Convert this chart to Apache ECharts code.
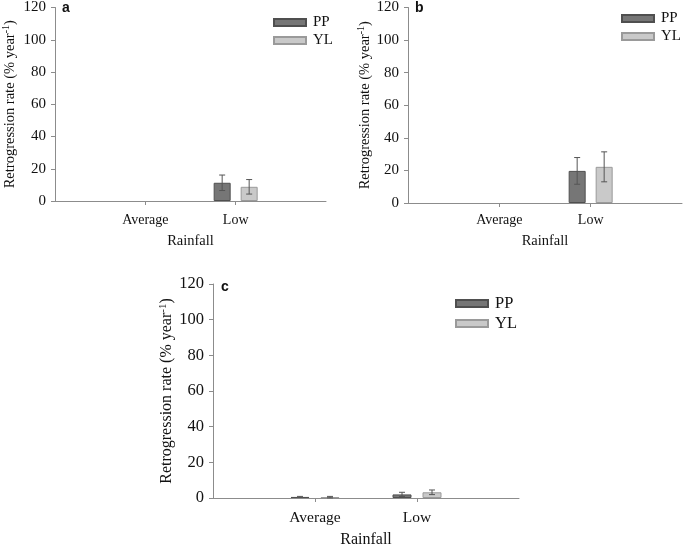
<!DOCTYPE html>
<html>
<head>
<meta charset="utf-8">
<script src="https://cdn.jsdelivr.net/npm/echarts@6/dist/echarts.min.js"></script>
<style>
html,body{margin:0;padding:0;background:#fff;}
#chart{width:685px;height:549px;}
</style>
</head>
<body>
<div id="chart"></div>
<script>
// ---- data ----
const categories = ['Average', 'Low'];
const seriesNames = ['PP', 'YL'];
const yTicks = [0, 20, 40, 60, 80, 100, 120];

const aPP = [null, 11.3];
const aPPErr = [null, 4.8];
const aYL = [null, 8.8];
const aYLErr = [null, 4.5];

const bPP = [null, 19.7];
const bPPErr = [null, 8.2];
const bYL = [null, 22.2];
const bYLErr = [null, 9.2];

const cPP = [0.6, 2.0];
const cPPErr = [0.3, 1.2];
const cYL = [0.5, 3.2];
const cYLErr = [0.4, 1.3];

// ---- layout / style ----
const SERIF = '"Liberation Serif","Times New Roman",serif';
const panels = [
  {key:'a', pp:aPP, ppE:aPPErr, yl:aYL, ylE:aYLErr,
   grid:{left:55, top:6, width:271, height:195}, fs:14, tfs:14.5, bw:17, gap:10,
   legend:{left:268, top:10}, tag:{left:62, top:1}, yGap:37, xGap:33, lblM:12},
  {key:'b', pp:bPP, ppE:bPPErr, yl:bYL, ylE:bYLErr,
   grid:{left:408, top:7, width:277, height:196}, fs:14, tfs:14.5, bw:17, gap:10,
   legend:{left:616, top:6}, tag:{left:415, top:1}, yGap:35, xGap:31, lblM:10},
  {key:'c', pp:cPP, ppE:cPPErr, yl:cYL, ylE:cYLErr,
   grid:{left:213, top:284, width:306, height:214}, fs:15.5, tfs:16, bw:19, gap:11,
   legend:{left:450, top:290}, tag:{left:221, top:280}, yGap:37, xGap:34, lblM:12}
];

const padCats = [''].concat(categories, ['']);
const pad = arr => [null].concat(arr, [null]);

const option = {
  animation:false,
  backgroundColor:'#fff',
  title:[], grid:[], xAxis:[], yAxis:[], legend:[], series:[]
};

panels.forEach((p, i) => {
  option.grid.push(Object.assign({containLabel:false}, p.grid));
  option.title.push({text:p.key, left:p.tag.left, top:p.tag.top, padding:0,
    textStyle:{fontFamily:'"Liberation Sans",Arial,sans-serif', fontWeight:'bold', fontSize:14, color:'#111'}});
  option.xAxis.push({
    type:'category', gridIndex:i, data:padCats, boundaryGap:false,
    name:'Rainfall', nameLocation:'middle', nameGap:p.xGap,
    nameTextStyle:{fontFamily:SERIF, fontSize:p.tfs, color:'#111'},
    axisLine:{lineStyle:{color:'#8c8c8c', width:1}},
    axisTick:{show:true, length:4, interval:(idx)=>idx===1||idx===2, lineStyle:{color:'#8c8c8c'}},
    axisLabel:{fontFamily:SERIF, fontSize:p.fs, color:'#111', margin:p.lblM, interval:0},
    splitLine:{show:false}
  });
  option.yAxis.push({
    type:'value', gridIndex:i, min:yTicks[0], max:yTicks[yTicks.length-1], interval:yTicks[1]-yTicks[0],
    name:'Retrogression rate (% year{sup|-1})', nameLocation:'middle', nameGap:p.yGap,
    nameTextStyle:{fontFamily:SERIF, fontSize:p.tfs, color:'#111',
      rich:{sup:{fontFamily:SERIF, fontSize:Math.round(p.tfs*0.68), color:'#111', verticalAlign:'top', padding:[0,0,p.tfs*0.45,0]}}},
    axisLine:{show:true, lineStyle:{color:'#8c8c8c', width:1}},
    axisTick:{show:true, length:4, lineStyle:{color:'#8c8c8c'}},
    axisLabel:{fontFamily:SERIF, fontSize:p.fs+1, color:'#111', margin:9},
    splitLine:{show:false}
  });
  option.legend.push({
    orient:'vertical', left:p.legend.left, top:p.legend.top, itemWidth:32, itemHeight:7, itemGap:3,
    icon:'rect', data:seriesNames,
    textStyle:{fontFamily:SERIF, fontSize:p.fs+1, color:'#111', padding:[0,0,0,2]}
  });
  const styles = [
    {color:'#767676', borderColor:'#4f4f4f', borderWidth:1},
    {color:'#c9c9c9', borderColor:'#9a9a9a', borderWidth:1}
  ];
  const vals = [p.pp, p.yl];
  const errs = [p.ppE, p.ylE];
  vals.forEach((v, s) => {
    option.series.push({
      name:seriesNames[s], type:'bar', xAxisIndex:i, yAxisIndex:i,
      data:pad(v), barWidth:p.bw, barGap:(p.gap/p.bw*100)+'%',
      itemStyle:styles[s], emphasis:{disabled:true}
    });
  });
  errs.forEach((e, s) => {
    const data = [];
    e.forEach((err, k) => {
      if (err != null && vals[s][k] != null) data.push([k+1, vals[s][k]-err, vals[s][k]+err]);
    });
    const offset = (s === 0 ? -1 : 1) * (p.bw + p.gap) / 2;
    option.series.push({
      type:'custom', xAxisIndex:i, yAxisIndex:i, silent:true, z:5,
      data:data,
      renderItem:(params, api) => {
        const lo = api.coord([api.value(0), Math.max(api.value(1), 0)]);
        const hi = api.coord([api.value(0), api.value(2)]);
        const x = lo[0] + offset;
        const cap = 3;
        const st = {stroke:'#555', lineWidth:1};
        return {type:'group', children:[
          {type:'line', shape:{x1:x, y1:lo[1], x2:x, y2:hi[1]}, style:st},
          {type:'line', shape:{x1:x-cap, y1:lo[1], x2:x+cap, y2:lo[1]}, style:st},
          {type:'line', shape:{x1:x-cap, y1:hi[1], x2:x+cap, y2:hi[1]}, style:st}
        ]};
      }
    });
  });
});

const chart = echarts.init(document.getElementById('chart'), null, {renderer:'canvas'});
chart.setOption(option);
</script>
</body>
</html>
